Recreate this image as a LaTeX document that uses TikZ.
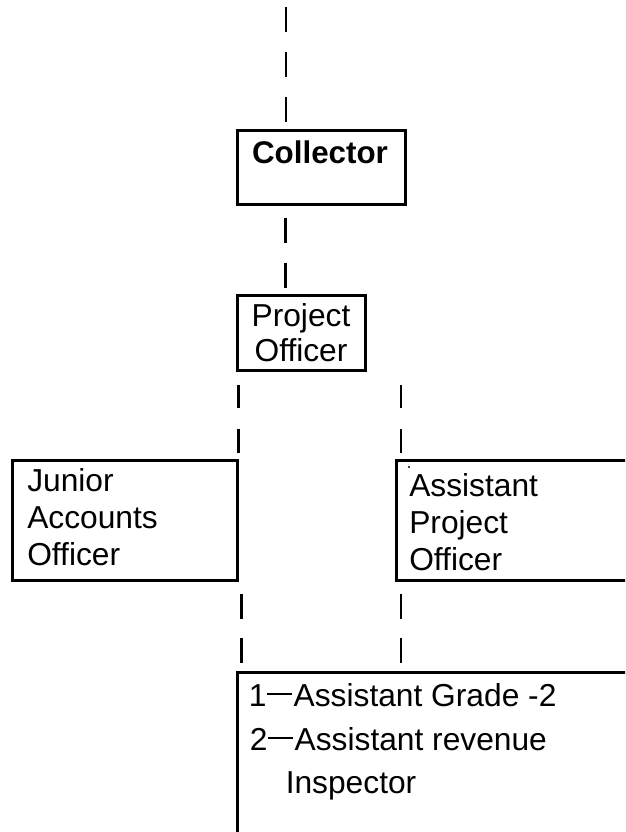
\documentclass[tikz,border=0pt]{standalone}
\usepackage{fontspec}
\setmainfont{Liberation Sans}
\usetikzlibrary{calc}
\newcommand{\orgdash}{\kern0.02em\rule[0.34em]{0.8em}{0.065em}\kern0.04em}
\begin{document}
\begin{tikzpicture}[x=0.75pt,y=-0.75pt,
  box/.style={draw,line width=2.25pt,inner sep=0pt},
  lbl/.style={font=\fontsize{23.8}{28}\selectfont,inner sep=0pt},
  lblb/.style={font=\fontsize{23.5}{28}\selectfont\bfseries,inner sep=0pt},
  conn/.style={line width=2pt}]
\useasboundingbox (0,0) rectangle (625,832);
\clip (0,0) rectangle (625,832);
% boxes
\node[box,minimum width=126pt,minimum height=55.5pt] (col) at (321,167) {};
\node[box,minimum width=96pt,minimum height=56.25pt] (po) at (301,332.5) {};
\node[box,minimum width=168.45pt,minimum height=90pt] (jao) at (125,520.7) {};
\node[box,minimum width=242.5pt,minimum height=89.5pt] (apo) at (558.35,520.35) {};
\node[box,minimum width=362.25pt,minimum height=171pt] (bot) at (478.5,786) {};
% texts
\node[lblb,anchor=base] (colt) at (320,163) {Collector};
\node[lbl,anchor=base] (pot1) at (301,326) {Project};
\node[lbl,anchor=base] (pot2) at (301,361) {Officer};
\node[lbl,anchor=base west] (jt1) at (27,491) {Junior};
\node[lbl,anchor=base west] (jt2) at (27,528) {Accounts};
\node[lbl,anchor=base west] (jt3) at (27,565) {Officer};
\node[lbl,anchor=base west] (at1) at (409,496) {Assistant};
\node[lbl,anchor=base west] (at2) at (409,533) {Project};
\node[lbl,anchor=base west] (at3) at (409,570) {Officer};
\fill (409,467) circle (1.1);
\node[lbl,anchor=base west] (bt1) at (248.5,706) {1\orgdash Assistant Grade -2};
\node[lbl,anchor=base west] (bt2) at (249.5,750) {2\orgdash Assistant revenue};
\node[lbl,anchor=base west] (bt3) at (285.5,793) {Inspector};
% connectors
\coordinate (top) at (286,7);
\draw[conn,dash pattern=on 18.75pt off 15pt] (top) -- (top |- col.north);
\draw[conn,dash pattern=on 0pt off 9pt on 18.75pt off 15pt on 18.75pt off 100pt]
  ([xshift=37.5pt]col.south west) -- ([xshift=37.5pt]col.south west |- po.north);
\draw[conn,dash pattern=on 0pt off 9.75pt on 17.25pt off 15.75pt on 18pt off 100pt]
  ([xshift=2.25pt]po.south west) -- ([xshift=2.25pt]po.south west |- jao.north);
\draw[conn,dash pattern=on 0pt off 9.75pt on 17.25pt off 15.75pt on 18pt off 100pt]
  ([xshift=4.35pt]apo.north west |- po.south) -- ([xshift=4.35pt]apo.north west);
\draw[conn,dash pattern=on 0pt off 9pt on 18.75pt off 14.25pt on 18.75pt off 100pt]
  ([xshift=2.25pt]jao.south east) -- ([xshift=2.25pt]jao.south east |- bot.north);
\draw[conn,dash pattern=on 0pt off 9pt on 18.75pt off 14.25pt on 18.75pt off 100pt]
  ([xshift=4.35pt]apo.south west) -- ([xshift=4.35pt]apo.south west |- bot.north);
\end{tikzpicture}
\end{document}
